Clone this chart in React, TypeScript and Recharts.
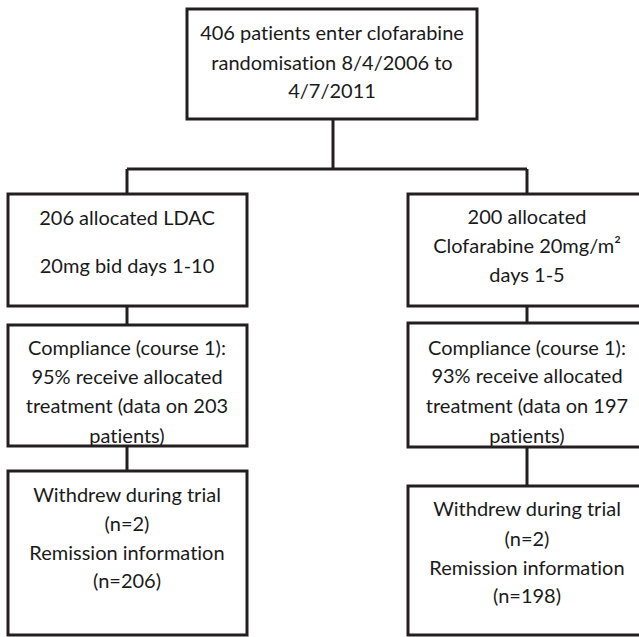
import { ScatterChart, Scatter, XAxis, YAxis, ReferenceArea, ReferenceLine } from "recharts";

// layout is in picture units: x 0..639 left to right, y 0..637 top to bottom
const boxes = [
  { id: "top", x1: 187, x2: 477, y1: 9, y2: 119 },
  { id: "l-alloc", x1: 8, x2: 247, y1: 194, y2: 306 },
  { id: "r-alloc", x1: 408, x2: 648, y1: 194, y2: 306 },
  { id: "l-comp", x1: 8, x2: 247, y1: 325, y2: 446 },
  { id: "r-comp", x1: 408, x2: 648, y1: 323, y2: 447 },
  { id: "l-out", x1: 8, x2: 247, y1: 471, y2: 635 },
  { id: "r-out", x1: 408, x2: 648, y1: 486, y2: 635 },
];

const connectors = [
  [{ x: 333, y: 119 }, { x: 333, y: 169 }],
  [{ x: 127, y: 169 }, { x: 527, y: 169 }],
  [{ x: 127, y: 169 }, { x: 127, y: 194 }],
  [{ x: 527, y: 169 }, { x: 527, y: 194 }],
  [{ x: 127, y: 306 }, { x: 127, y: 325 }],
  [{ x: 527, y: 306 }, { x: 527, y: 323 }],
  [{ x: 127, y: 446 }, { x: 127, y: 471 }],
  [{ x: 527, y: 447 }, { x: 527, y: 486 }],
];

const topLines = [
  { x: 332, y: 32, text: "406 patients enter clofarabine" },
  { x: 332, y: 62, text: "randomisation 8/4/2006 to" },
  { x: 332, y: 90, text: "4/7/2011" },
];

const ldacLines = [
  { x: 127, y: 217, text: "206 allocated LDAC" },
  { x: 127, y: 265, text: "20mg bid days 1-10" },
  { x: 127, y: 347, text: "Compliance (course 1):" },
  { x: 127, y: 376, text: "95% receive allocated" },
  { x: 127, y: 405, text: "treatment (data on 203" },
  { x: 127, y: 435, text: "patients)" },
  { x: 127, y: 494, text: "Withdrew during trial" },
  { x: 127, y: 523, text: "(n=2)" },
  { x: 127, y: 552, text: "Remission information" },
  { x: 127, y: 580, text: "(n=206)" },
];

const clofLines = [
  { x: 527, y: 216, text: "200 allocated" },
  { x: 527, y: 245, text: "Clofarabine 20mg/m²" },
  { x: 527, y: 274, text: "days 1-5" },
  { x: 527, y: 347, text: "Compliance (course 1):" },
  { x: 527, y: 375, text: "93% receive allocated" },
  { x: 527, y: 405, text: "treatment (data on 197" },
  { x: 527, y: 435, text: "patients)" },
  { x: 527, y: 508, text: "Withdrew during trial" },
  { x: 527, y: 538, text: "(n=2)" },
  { x: 527, y: 567, text: "Remission information" },
  { x: 527, y: 595, text: "(n=198)" },
];

const INK = "#231f20";

function TextMark(props: any) {
  const { cx, cy, payload } = props;
  return (
    <text
      x={cx}
      y={cy}
      textAnchor="middle"
      dominantBaseline="central"
      fill="#1a1a1a"
      fontFamily="Lato, 'Open Sans', sans-serif"
      fontSize={20}
      style={{ fontVariantLigatures: "none" }}
    >
      {payload.text}
    </text>
  );
}

export default function App() {
  return (
    <div style={{ position: "absolute", left: 0, top: 0, background: "#fff" }}>
      <ScatterChart width={639} height={637} margin={{ top: 0, right: 0, bottom: 0, left: 0 }}>
        <XAxis type="number" dataKey="x" domain={[0, 639]} hide />
        <YAxis type="number" dataKey="y" domain={[0, 637]} reversed hide />
        {boxes.map((b) => (
          <ReferenceArea
            key={b.id}
            x1={b.x1}
            x2={b.x2}
            y1={b.y1}
            y2={b.y2}
            fill="#fff"
            fillOpacity={1}
            stroke={INK}
            strokeWidth={3}
            ifOverflow="visible"
          />
        ))}
        {connectors.map((seg, i) => (
          <ReferenceLine key={i} segment={seg} stroke={INK} strokeWidth={3} ifOverflow="visible" />
        ))}
        <Scatter data={topLines} shape={TextMark} isAnimationActive={false} />
        <Scatter data={ldacLines} shape={TextMark} isAnimationActive={false} />
        <Scatter data={clofLines} shape={TextMark} isAnimationActive={false} />
      </ScatterChart>
    </div>
  );
}
